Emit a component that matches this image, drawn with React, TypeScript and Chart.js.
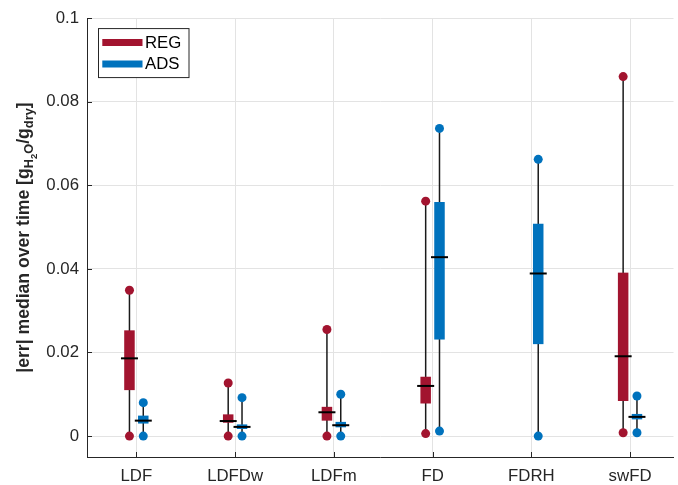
import React, { useEffect, useRef } from "react";
import { Chart, registerables } from "chart.js";

Chart.register(...registerables);

const categories = ["LDF", "LDFDw", "LDFm", "FD", "FDRH", "swFD"];
const yTicks = [0, 0.02, 0.04, 0.06, 0.08, 0.1];

const regMin = [0, 0, 0, 0.0006, null, 0.0008];
const regQ1 = [0.011, 0.0032, 0.0037, 0.0078, null, 0.0084];
const regMed = [0.0186, 0.0036, 0.0057, 0.012, null, 0.0191];
const regQ3 = [0.0253, 0.0052, 0.007, 0.0142, null, 0.0391];
const regMax = [0.0349, 0.0127, 0.0255, 0.0562, null, 0.086];

const adsMin = [0, 0, 0, 0.0012, 0, 0.0008];
const adsQ1 = [0.003, 0.0017, 0.0021, 0.0231, 0.022, 0.004];
const adsMed = [0.0037, 0.0022, 0.0026, 0.0428, 0.0389, 0.0046];
const adsQ3 = [0.0049, 0.0028, 0.0034, 0.056, 0.0508, 0.0053];
const adsMax = [0.008, 0.0092, 0.01, 0.0736, 0.0662, 0.0096];

const REG_COLOR = "#A2142F";
const ADS_COLOR = "#0072BD";
const AXIS_COLOR = "#262626";
const GRID_COLOR = "#e3e3e3";
const OFFSET = 0.07;
const FONT = "'Liberation Sans', Arial, Helvetica, sans-serif";
const TICK_SIZE = 16.8;

type Series = {
  name: string;
  color: string;
  off: number;
  min: (number | null)[];
  q1: (number | null)[];
  med: (number | null)[];
  q3: (number | null)[];
  max: (number | null)[];
};

const series: Series[] = [
  { name: "REG", color: REG_COLOR, off: -OFFSET, min: regMin, q1: regQ1, med: regMed, q3: regQ3, max: regMax },
  { name: "ADS", color: ADS_COLOR, off: OFFSET, min: adsMin, q1: adsQ1, med: adsMed, q3: adsQ3, max: adsMax },
];

function pointsFor(s: Series, arr: (number | null)[]) {
  const out: { x: number; y: number }[] = [];
  arr.forEach((v, i) => {
    if (v !== null) out.push({ x: i + 1 + s.off, y: v });
  });
  return out;
}

const boxPlugin = {
  id: "boxPlugin",
  beforeDatasetsDraw(chart: any) {
    const { ctx, scales, chartArea } = chart;
    const xs = scales.x;
    const ys = scales.y;
    ctx.save();
    // inward ticks
    ctx.strokeStyle = AXIS_COLOR;
    ctx.lineWidth = 1;
    ctx.beginPath();
    yTicks.forEach((v) => {
      const py = Math.round(ys.getPixelForValue(v)) + 0.5;
      ctx.moveTo(chartArea.left, py);
      ctx.lineTo(chartArea.left + 5, py);
    });
    categories.forEach((_, i) => {
      const px = Math.round(xs.getPixelForValue(i + 1)) + 0.5;
      ctx.moveTo(px, chartArea.bottom);
      ctx.lineTo(px, chartArea.bottom - 5);
    });
    ctx.stroke();

    series.forEach((s) => {
      categories.forEach((_, i) => {
        const q1 = s.q1[i], q3 = s.q3[i], mn = s.min[i], mx = s.max[i];
        if (q1 === null || q3 === null || mn === null || mx === null) return;
        const px = xs.getPixelForValue(i + 1 + s.off);
        ctx.strokeStyle = "#1a1a1a";
        ctx.lineWidth = 1.5;
        ctx.beginPath();
        ctx.moveTo(px, ys.getPixelForValue(mn));
        ctx.lineTo(px, ys.getPixelForValue(mx));
        ctx.stroke();
        const yTop = ys.getPixelForValue(q3);
        const yBot = ys.getPixelForValue(q1);
        ctx.fillStyle = s.color;
        ctx.fillRect(px - 5.25, yTop, 10.5, yBot - yTop);
      });
    });
    ctx.restore();
  },
  afterDatasetsDraw(chart: any) {
    const { ctx, scales } = chart;
    const xs = scales.x;
    const ys = scales.y;
    ctx.save();
    ctx.strokeStyle = "#000000";
    ctx.lineWidth = 2;
    series.forEach((s) => {
      categories.forEach((_, i) => {
        const m = s.med[i];
        if (m === null) return;
        const px = xs.getPixelForValue(i + 1 + s.off);
        const py = ys.getPixelForValue(m);
        ctx.beginPath();
        ctx.moveTo(px - 8.5, py);
        ctx.lineTo(px + 8.5, py);
        ctx.stroke();
      });
    });
    ctx.restore();
  },
  afterDraw(chart: any) {
    const { ctx, chartArea } = chart;
    ctx.save();
    // legend
    const lx = chartArea.left + 11.5;
    const ly = chartArea.top + 10.5;
    const lw = 90.5;
    const lh = 49;
    ctx.fillStyle = "#ffffff";
    ctx.fillRect(lx, ly, lw, lh);
    ctx.strokeStyle = AXIS_COLOR;
    ctx.lineWidth = 1;
    ctx.strokeRect(lx, ly, lw, lh);
    ctx.font = `${TICK_SIZE}px ${FONT}`;
    ctx.textBaseline = "middle";
    ctx.textAlign = "left";
    series.forEach((s, k) => {
      const yy = ly + 14 + k * 21.3;
      ctx.strokeStyle = s.color;
      ctx.lineWidth = 7;
      ctx.beginPath();
      ctx.moveTo(lx + 3.8, yy);
      ctx.lineTo(lx + 44, yy);
      ctx.stroke();
      ctx.fillStyle = "#000000";
      ctx.fillText(s.name, lx + 46.5, yy + 0.5);
    });

    // y-axis title with subscripts
    const parts: { t: string; size: number; dy: number }[] = [
      { t: "|err| median over time [g", size: 17.6, dy: 0 },
      { t: "H", size: 12.8, dy: 4.5 },
      { t: "2", size: 9.5, dy: 8 },
      { t: "O", size: 12.8, dy: 4.5 },
      { t: "/g", size: 17.6, dy: 0 },
      { t: "dry", size: 12.8, dy: 4.5 },
      { t: "]", size: 17.6, dy: 0 },
    ];
    let total = 0;
    parts.forEach((p) => {
      ctx.font = `bold ${p.size}px ${FONT}`;
      total += ctx.measureText(p.t).width;
    });
    const cy = (chartArea.top + chartArea.bottom) / 2;
    ctx.translate(28.5, cy);
    ctx.rotate(-Math.PI / 2);
    ctx.fillStyle = AXIS_COLOR;
    ctx.textBaseline = "alphabetic";
    let x = -total / 2;
    parts.forEach((p) => {
      ctx.font = `bold ${p.size}px ${FONT}`;
      ctx.fillText(p.t, x, p.dy);
      x += ctx.measureText(p.t).width;
    });
    ctx.restore();
  },
};

export default function App() {
  const ref = useRef<HTMLCanvasElement | null>(null);
  useEffect(() => {
    document.body.style.margin = "0";
    const canvas = ref.current;
    if (!canvas) return;
    const datasets: any[] = [];
    series.forEach((s) => {
      datasets.push({
        label: s.name + " min",
        data: pointsFor(s, s.min),
        backgroundColor: s.color,
        borderWidth: 0,
        pointRadius: 4.5,
      });
      datasets.push({
        label: s.name + " max",
        data: pointsFor(s, s.max),
        backgroundColor: s.color,
        borderWidth: 0,
        pointRadius: 4.5,
      });
    });
    const chart = new Chart(canvas, {
      type: "scatter",
      data: { datasets },
      plugins: [boxPlugin],
      options: {
        animation: false,
        responsive: false,
        devicePixelRatio: 1,
        layout: { padding: { top: 17, right: 1, left: 0, bottom: 0 } },
        plugins: { legend: { display: false }, tooltip: { enabled: false } },
        scales: {
          x: {
            type: "linear",
            min: 0.5,
            max: 6.44,
            afterBuildTicks: (s: any) => {
              s.ticks = categories.map((_, i) => ({ value: i + 1 }));
            },
            afterFit: (s: any) => {
              s.height = 28;
            },
            ticks: {
              autoSkip: false,
              maxRotation: 0,
              padding: 9,
              color: AXIS_COLOR,
              font: { size: TICK_SIZE, family: FONT },
              callback: (v: any) => categories[Math.round(Number(v)) - 1] ?? "",
            },
            grid: { color: GRID_COLOR, drawTicks: false, lineWidth: 1 },
            border: { color: AXIS_COLOR, width: 1 },
          },
          y: {
            type: "linear",
            min: -0.005,
            max: 0.1,
            afterBuildTicks: (s: any) => {
              s.ticks = yTicks.map((v) => ({ value: v }));
            },
            afterFit: (s: any) => {
              s.width = 87;
            },
            ticks: {
              padding: 8,
              color: AXIS_COLOR,
              font: { size: TICK_SIZE, family: FONT },
              callback: (v: any) => {
                const n = Number(v);
                return n === 0 ? "0" : String(Number(n.toFixed(3)));
              },
            },
            grid: { color: GRID_COLOR, drawTicks: false, lineWidth: 1 },
            border: { color: AXIS_COLOR, width: 1 },
          },
        },
      },
    });
    return () => chart.destroy();
  }, []);
  return <canvas ref={ref} width={678} height={485} style={{ display: "block" }} />;
}
